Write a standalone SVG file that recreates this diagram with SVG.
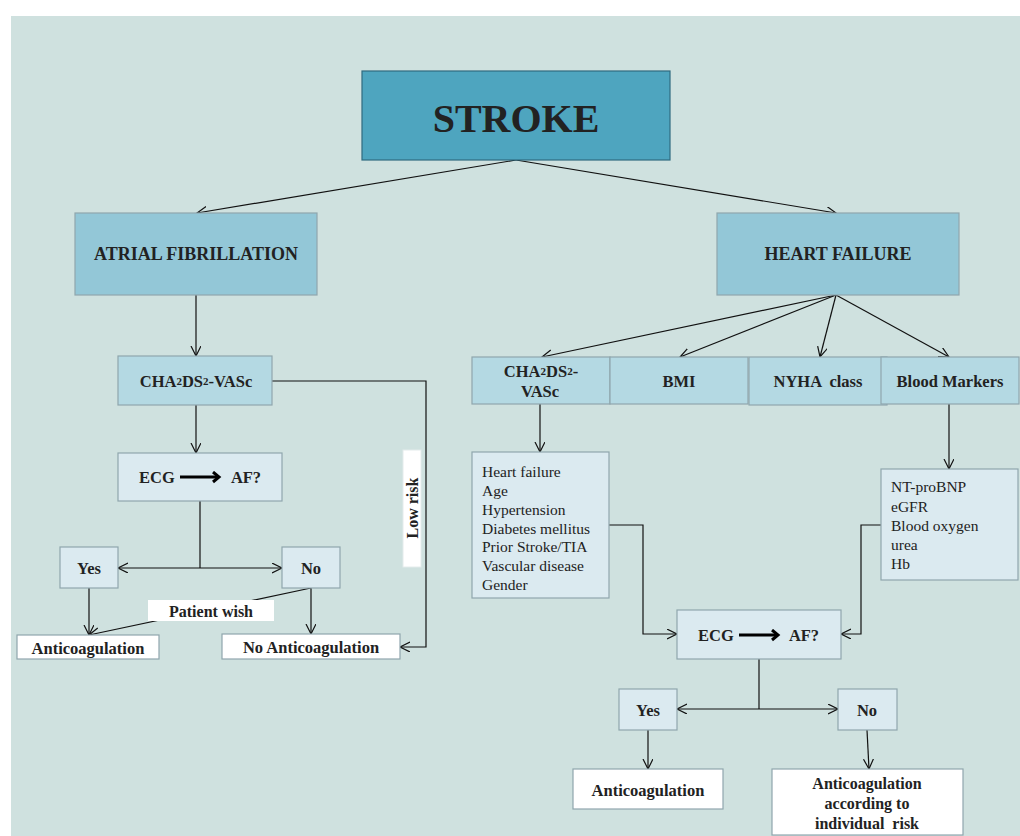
<svg xmlns="http://www.w3.org/2000/svg" width="1020" height="836" viewBox="0 0 1020 836">
<defs>
<marker id="arr" markerWidth="12" markerHeight="12" refX="10" refY="5" orient="auto" markerUnits="userSpaceOnUse">
<path d="M0,0 L10,5 L0,10" fill="none" stroke="#111" stroke-width="1.2"/>
</marker>
<marker id="thick" markerWidth="14" markerHeight="14" refX="7" refY="6" orient="auto" markerUnits="userSpaceOnUse">
<path d="M1,1 L7,6 L1,11" fill="none" stroke="#000" stroke-width="3"/>
</marker>
<style>
text{font-family:"Liberation Serif","Times New Roman",serif;fill:#222}
.b{font-weight:bold}
.c{text-anchor:middle;dominant-baseline:central}
.box{stroke:#8fa6ad;stroke-width:1.2}
.l1{fill:#dbeaf0}
.l2{fill:#b4d9e3}
.l3{fill:#93c7d7}
.w{fill:#fff}
.ln{fill:none;stroke:#111;stroke-width:1.2}
.li{font-size:15.5px}
.sub{font-size:11px}
</style>
</defs>
<rect x="0" y="0" width="1020" height="836" fill="#fff"/>
<rect x="11" y="16" width="1009" height="820" fill="#cfe1df"/>

<g id="connectors">
<path class="ln" d="M516,160 L197,213" marker-end="url(#arr)"/>
<path class="ln" d="M516,160 L836,213" marker-end="url(#arr)"/>
<path class="ln" d="M196,295 L196,356" marker-end="url(#arr)"/>
<path class="ln" d="M196,405 L196,453" marker-end="url(#arr)"/>
<path class="ln" d="M200,501 L200,568"/>
<path class="ln" d="M200,568 L118,568" marker-end="url(#arr)"/>
<path class="ln" d="M200,568 L282,568" marker-end="url(#arr)"/>
<path class="ln" d="M89,588 L89,635" marker-end="url(#arr)"/>
<path class="ln" d="M311,588 L311,634" marker-end="url(#arr)"/>
<path class="ln" d="M311,588 L89,635" marker-end="url(#arr)"/>
<path class="ln" d="M272,381 L426,381 L426,647 L400,647" marker-end="url(#arr)"/>
<path class="ln" d="M836,295 L542,357" marker-end="url(#arr)"/>
<path class="ln" d="M836,295 L680,357" marker-end="url(#arr)"/>
<path class="ln" d="M836,295 L820,357" marker-end="url(#arr)"/>
<path class="ln" d="M836,295 L949,357" marker-end="url(#arr)"/>
<path class="ln" d="M540,404 L540,452" marker-end="url(#arr)"/>
<path class="ln" d="M949,404 L949,469" marker-end="url(#arr)"/>
<path class="ln" d="M609,525 L643,525 L643,634 L677,634" marker-end="url(#arr)"/>
<path class="ln" d="M881,525 L861,525 L861,634 L841,634" marker-end="url(#arr)"/>
<path class="ln" d="M759,659 L759,709"/>
<path class="ln" d="M759,709 L677,709" marker-end="url(#arr)"/>
<path class="ln" d="M759,709 L838,709" marker-end="url(#arr)"/>
<path class="ln" d="M648,730 L648,769" marker-end="url(#arr)"/>
<path class="ln" d="M867,730 L869,769" marker-end="url(#arr)"/>
</g>

<g id="stroke">
<rect x="362" y="71" width="308" height="89" fill="#4ea5bf" stroke="#2f6b80" stroke-width="1.2"/>
<text class="b c" x="516" y="118" font-size="40">STROKE</text>
</g>
<g id="af">
<rect class="box l3" x="75" y="213" width="242" height="82"/>
<text class="b c" x="196" y="254" font-size="18">ATRIAL FIBRILLATION</text>
</g>
<g id="hf">
<rect class="box l3" x="717" y="213" width="242" height="82"/>
<text class="b c" x="838" y="254" font-size="18">HEART FAILURE</text>
</g>

<g id="cha-left">
<rect class="box l2" x="118" y="356" width="154" height="49"/>
<text class="b c" x="196" y="381" font-size="16.5">CHA<tspan class="sub">2</tspan>DS<tspan class="sub">2</tspan>-VASc</text>
</g>
<g id="ecg-left">
<rect class="box l1" x="118" y="453" width="164" height="48"/>
<text class="b c" x="157" y="477" font-size="16.5">ECG</text>
<line x1="180" y1="477" x2="219" y2="477" stroke="#000" stroke-width="3.2" marker-end="url(#thick)"/>
<text class="b c" x="246" y="477" font-size="16.5">AF?</text>
</g>
<g id="yes-left">
<rect class="box l1" x="60" y="547" width="58" height="41"/>
<text class="b c" x="89" y="568" font-size="16.5">Yes</text>
</g>
<g id="no-left">
<rect class="box l1" x="282" y="547" width="58" height="41"/>
<text class="b c" x="311" y="568" font-size="16.5">No</text>
</g>
<g id="patient-wish">
<rect x="148" y="600" width="126" height="21" fill="#fff"/>
<text class="b c" x="211" y="611" font-size="16">Patient wish</text>
</g>
<g id="low-risk">
<rect x="403" y="450" width="18" height="117" fill="#fff" stroke="#e4ecec" stroke-width="1"/>
<text class="b c" x="0" y="0" font-size="16" transform="translate(412,508) rotate(-90)">Low risk</text>
</g>
<g id="anticoag-left">
<rect class="box w" x="17" y="635" width="142" height="24"/>
<text class="b c" x="88" y="648" font-size="16.5">Anticoagulation</text>
</g>
<g id="no-anticoag">
<rect class="box w" x="222" y="634" width="178" height="25"/>
<text class="b c" x="311" y="647" font-size="16.5">No Anticoagulation</text>
</g>

<g id="cha-right">
<rect class="box l2" x="472" y="357" width="138" height="47"/>
<text class="b c" x="541" y="371" font-size="16.5">CHA<tspan class="sub">2</tspan>DS<tspan class="sub">2</tspan>-</text>
<text class="b c" x="540" y="391" font-size="16.5">VASc</text>
</g>
<g id="bmi">
<rect class="box l2" x="610" y="357" width="138" height="47"/>
<text class="b c" x="679" y="381" font-size="16.5">BMI</text>
</g>
<g id="nyha">
<rect class="box l2" x="749" y="357" width="138" height="48"/>
<text class="b c" x="818" y="381" font-size="16.5" xml:space="preserve">NYHA  class</text>
</g>
<g id="blood-markers">
<rect class="box l2" x="881" y="357" width="138" height="47"/>
<text class="b c" x="950" y="381" font-size="16.5">Blood Markers</text>
</g>
<g id="hf-list">
<rect class="box l1" x="472" y="452" width="137" height="146"/>
<text class="li" x="482" y="477">Heart failure</text>
<text class="li" x="482" y="496">Age</text>
<text class="li" x="482" y="515">Hypertension</text>
<text class="li" x="482" y="534">Diabetes mellitus</text>
<text class="li" x="482" y="552">Prior Stroke/TIA</text>
<text class="li" x="482" y="571">Vascular disease</text>
<text class="li" x="482" y="590">Gender</text>
</g>
<g id="bm-list">
<rect class="box l1" x="881" y="469" width="137" height="111"/>
<text class="li" x="891" y="492">NT-proBNP</text>
<text class="li" x="891" y="512">eGFR</text>
<text class="li" x="891" y="531">Blood oxygen</text>
<text class="li" x="891" y="550">urea</text>
<text class="li" x="891" y="569">Hb</text>
</g>
<g id="ecg-right">
<rect class="box l1" x="677" y="610" width="164" height="49"/>
<text class="b c" x="716" y="635" font-size="16.5">ECG</text>
<line x1="739" y1="635" x2="778" y2="635" stroke="#000" stroke-width="3.2" marker-end="url(#thick)"/>
<text class="b c" x="804" y="635" font-size="16.5">AF?</text>
</g>
<g id="yes-right">
<rect class="box l1" x="619" y="689" width="58" height="41"/>
<text class="b c" x="648" y="710" font-size="16.5">Yes</text>
</g>
<g id="no-right">
<rect class="box l1" x="838" y="689" width="59" height="41"/>
<text class="b c" x="867" y="710" font-size="16.5">No</text>
</g>
<g id="anticoag-right">
<rect class="box w" x="573" y="769" width="150" height="40"/>
<text class="b c" x="648" y="790" font-size="16.5">Anticoagulation</text>
</g>
<g id="anticoag-risk">
<rect class="box w" x="772" y="769" width="191" height="66"/>
<text class="b c" x="867" y="783" font-size="16">Anticoagulation</text>
<text class="b c" x="867" y="803" font-size="16">according to</text>
<text class="b c" x="867" y="823" font-size="16" xml:space="preserve">individual  risk</text>
</g>
</svg>
